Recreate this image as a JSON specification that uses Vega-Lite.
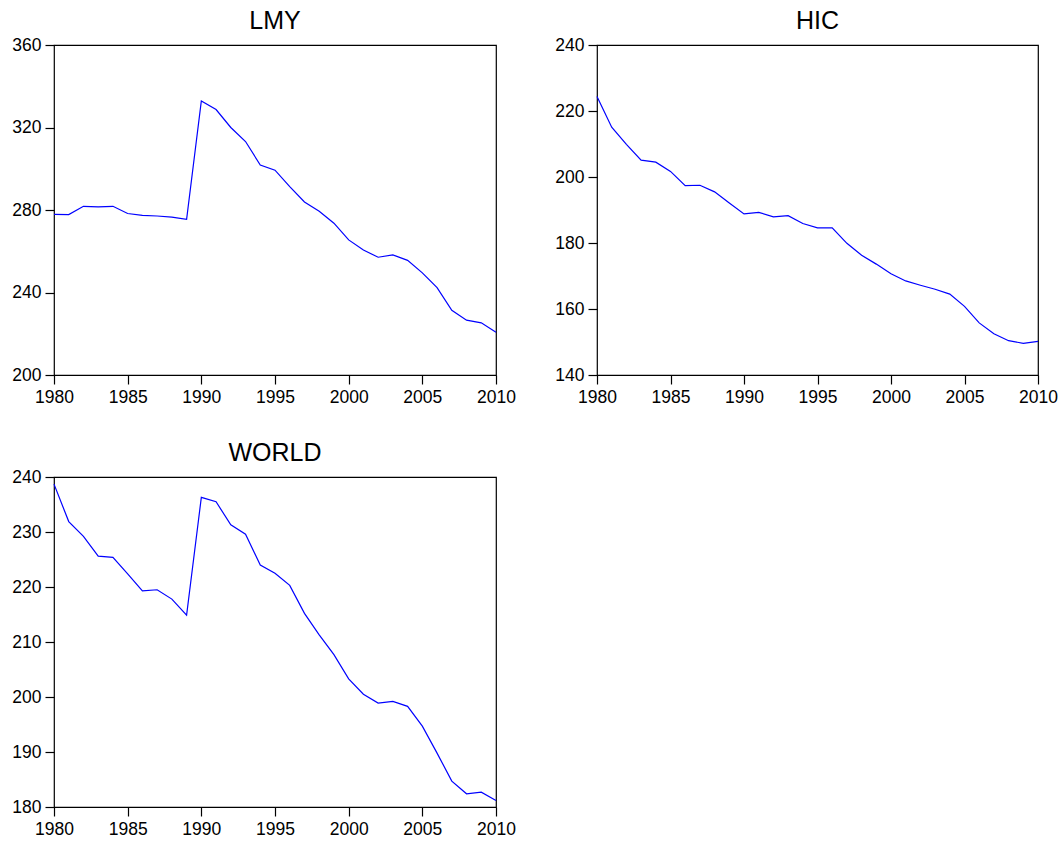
{
  "$schema": "https://vega.github.io/schema/vega-lite/v6.json",
  "padding": {"left": 11, "top": 8, "right": 5, "bottom": 5},
  "background": "white",
  "bounds": "flush",
  "spacing": {"row": 102, "column": 101},
  "columns": 2,
  "config": {
    "font": "Liberation Sans",
    "view": {"stroke": "black", "strokeWidth": 1.2},
    "axis": {
      "grid": false,
      "domain": false,
      "ticks": true,
      "tickColor": "black",
      "tickSize": 9,
      "tickWidth": 1.2,
      "tickOpacity": 1,
      "labelFont": "Liberation Sans",
      "labelFontSize": 17.5,
      "labelColor": "black",
      "labelPadding": 4,
      "labelFlush": false,
      "labelOverlap": false,
      "title": null
    },
    "title": {"font": "Liberation Sans", "fontSize": 25, "fontWeight": "normal", "anchor": "middle", "baseline": "alphabetic", "offset": 2, "color": "black"}
  },
  "data": {
    "values": [
      {"series":"LMY","year":1980,"value":277.9},{"series":"LMY","year":1981,"value":277.8},{"series":"LMY","year":1982,"value":281.8},{"series":"LMY","year":1983,"value":281.5},{"series":"LMY","year":1984,"value":281.8},{"series":"LMY","year":1985,"value":278.3},{"series":"LMY","year":1986,"value":277.4},{"series":"LMY","year":1987,"value":277.1},{"series":"LMY","year":1988,"value":276.5},{"series":"LMY","year":1989,"value":275.5},{"series":"LMY","year":1990,"value":332.9},{"series":"LMY","year":1991,"value":328.7},{"series":"LMY","year":1992,"value":320.0},{"series":"LMY","year":1993,"value":313.2},{"series":"LMY","year":1994,"value":301.8},{"series":"LMY","year":1995,"value":299.3},{"series":"LMY","year":1996,"value":291.3},{"series":"LMY","year":1997,"value":283.9},{"series":"LMY","year":1998,"value":279.4},{"series":"LMY","year":1999,"value":273.6},{"series":"LMY","year":2000,"value":265.5},{"series":"LMY","year":2001,"value":260.6},{"series":"LMY","year":2002,"value":257.1},{"series":"LMY","year":2003,"value":258.2},{"series":"LMY","year":2004,"value":255.6},{"series":"LMY","year":2005,"value":249.5},{"series":"LMY","year":2006,"value":242.4},{"series":"LMY","year":2007,"value":231.4},{"series":"LMY","year":2008,"value":226.6},{"series":"LMY","year":2009,"value":225.3},{"series":"LMY","year":2010,"value":220.7},
      {"series":"HIC","year":1980,"value":224.4},{"series":"HIC","year":1981,"value":215.1},{"series":"HIC","year":1982,"value":209.9},{"series":"HIC","year":1983,"value":205.1},{"series":"HIC","year":1984,"value":204.5},{"series":"HIC","year":1985,"value":201.7},{"series":"HIC","year":1986,"value":197.4},{"series":"HIC","year":1987,"value":197.5},{"series":"HIC","year":1988,"value":195.5},{"series":"HIC","year":1989,"value":192.1},{"series":"HIC","year":1990,"value":188.8},{"series":"HIC","year":1991,"value":189.3},{"series":"HIC","year":1992,"value":187.9},{"series":"HIC","year":1993,"value":188.3},{"series":"HIC","year":1994,"value":185.9},{"series":"HIC","year":1995,"value":184.6},{"series":"HIC","year":1996,"value":184.6},{"series":"HIC","year":1997,"value":179.9},{"series":"HIC","year":1998,"value":176.3},{"series":"HIC","year":1999,"value":173.6},{"series":"HIC","year":2000,"value":170.7},{"series":"HIC","year":2001,"value":168.5},{"series":"HIC","year":2002,"value":167.2},{"series":"HIC","year":2003,"value":166.0},{"series":"HIC","year":2004,"value":164.5},{"series":"HIC","year":2005,"value":160.8},{"series":"HIC","year":2006,"value":155.8},{"series":"HIC","year":2007,"value":152.5},{"series":"HIC","year":2008,"value":150.4},{"series":"HIC","year":2009,"value":149.6},{"series":"HIC","year":2010,"value":150.2},
      {"series":"WORLD","year":1980,"value":238.7},{"series":"WORLD","year":1981,"value":231.9},{"series":"WORLD","year":1982,"value":229.2},{"series":"WORLD","year":1983,"value":225.6},{"series":"WORLD","year":1984,"value":225.4},{"series":"WORLD","year":1985,"value":222.4},{"series":"WORLD","year":1986,"value":219.3},{"series":"WORLD","year":1987,"value":219.5},{"series":"WORLD","year":1988,"value":217.8},{"series":"WORLD","year":1989,"value":214.9},{"series":"WORLD","year":1990,"value":236.3},{"series":"WORLD","year":1991,"value":235.5},{"series":"WORLD","year":1992,"value":231.3},{"series":"WORLD","year":1993,"value":229.6},{"series":"WORLD","year":1994,"value":224.0},{"series":"WORLD","year":1995,"value":222.5},{"series":"WORLD","year":1996,"value":220.3},{"series":"WORLD","year":1997,"value":215.2},{"series":"WORLD","year":1998,"value":211.3},{"series":"WORLD","year":1999,"value":207.7},{"series":"WORLD","year":2000,"value":203.3},{"series":"WORLD","year":2001,"value":200.5},{"series":"WORLD","year":2002,"value":198.9},{"series":"WORLD","year":2003,"value":199.2},{"series":"WORLD","year":2004,"value":198.3},{"series":"WORLD","year":2005,"value":194.7},{"series":"WORLD","year":2006,"value":189.8},{"series":"WORLD","year":2007,"value":184.7},{"series":"WORLD","year":2008,"value":182.4},{"series":"WORLD","year":2009,"value":182.7},{"series":"WORLD","year":2010,"value":181.2}
    ]
  },
  "concat": [
    {
      "title": "LMY",
      "width": 442, "height": 330,
      "transform": [{"filter": "datum.series === 'LMY'"}],
      "mark": {"type": "line", "color": "#0000FF", "strokeWidth": 1.2},
      "encoding": {
        "x": {"field": "year", "type": "quantitative", "scale": {"domain": [1980, 2010], "nice": false, "zero": false}, "axis": {"values": [1980,1985,1990,1995,2000,2005,2010], "format": "d"}},
        "y": {"field": "value", "type": "quantitative", "scale": {"domain": [200, 360], "nice": false, "zero": false}, "axis": {"values": [200,240,280,320,360]}}
      }
    },
    {
      "title": "HIC",
      "width": 441, "height": 330,
      "transform": [{"filter": "datum.series === 'HIC'"}],
      "mark": {"type": "line", "color": "#0000FF", "strokeWidth": 1.2},
      "encoding": {
        "x": {"field": "year", "type": "quantitative", "scale": {"domain": [1980, 2010], "nice": false, "zero": false}, "axis": {"values": [1980,1985,1990,1995,2000,2005,2010], "format": "d"}},
        "y": {"field": "value", "type": "quantitative", "scale": {"domain": [140, 240], "nice": false, "zero": false}, "axis": {"values": [140,160,180,200,220,240]}}
      }
    },
    {
      "title": "WORLD",
      "width": 442, "height": 330,
      "transform": [{"filter": "datum.series === 'WORLD'"}],
      "mark": {"type": "line", "color": "#0000FF", "strokeWidth": 1.2},
      "encoding": {
        "x": {"field": "year", "type": "quantitative", "scale": {"domain": [1980, 2010], "nice": false, "zero": false}, "axis": {"values": [1980,1985,1990,1995,2000,2005,2010], "format": "d"}},
        "y": {"field": "value", "type": "quantitative", "scale": {"domain": [180, 240], "nice": false, "zero": false}, "axis": {"values": [180,190,200,210,220,230,240]}}
      }
    }
  ],
  "resolve": {"scale": {"x": "independent", "y": "independent"}}
}
